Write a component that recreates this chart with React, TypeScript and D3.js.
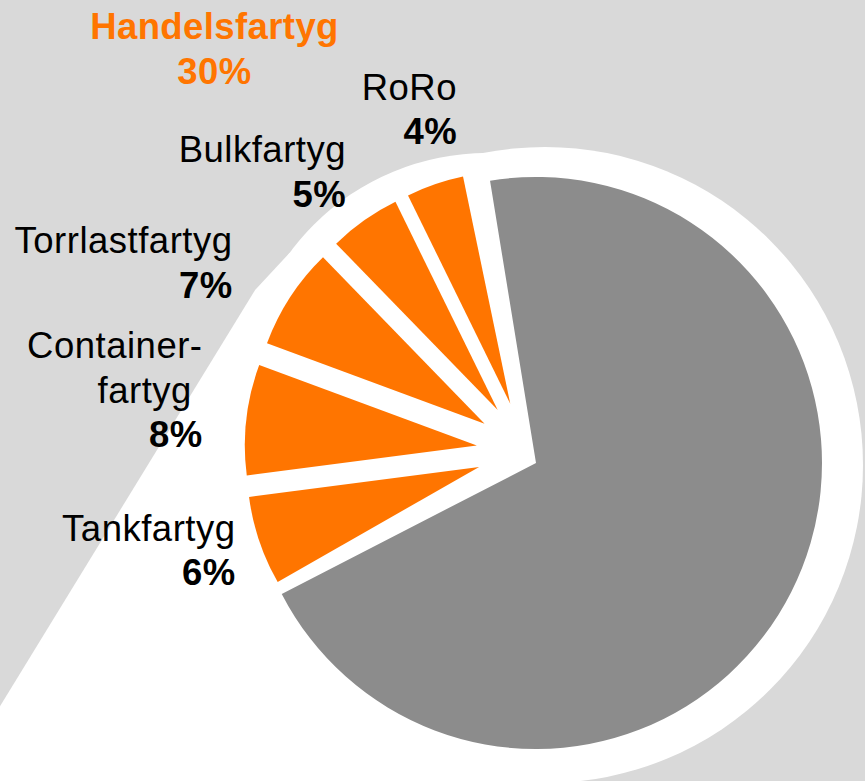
import React from 'react';
import * as d3 from 'd3';

// ---------- data ----------
const categories = ['Övriga fartyg', 'Tankfartyg', 'Containerfartyg', 'Torrlastfartyg', 'Bulkfartyg', 'RoRo'];
const shares = [70.0, 6.2, 7.7, 7.1, 5.0, 4.0];
const isMerchant = [false, true, true, true, true, true];
const labelLines = [[], ['Tankfartyg'], ['Container-', 'fartyg\u00A0'], ['Torrlastfartyg'], ['Bulkfartyg'], ['RoRo']];
const groupTitle = 'Handelsfartyg';

// ---------- layout ----------
const W = 865;
const H = 781;
const COLORS = { bg: '#d9d9d9', white: '#ffffff', grey: '#8c8c8c', orange: '#ff7500', text: '#000000' };
const DEG = Math.PI / 180;
const START = -9.25 * DEG;
const ORANGE_ROT = -2.5 * DEG;
const GREY_C: [number, number] = [536, 463];
const GREY_R = 286;
const OR_C: [number, number] = [526.5, 451];
const OR_R = 232;
const EXPLODE = 50;
const BIG_CIRCLE = { cx: 545, cy: 465, r: 318 };
const SMALL_CIRCLE = { cx: 487, cy: 398, r: 245 };
const TAIL_ANCHOR: [number, number] = [236.7, 320];
const TAIL_SLOPE = -0.613; // dx per dy
const labelPos = [null, { x: 235.5, y: 540.7 }, { x: 202.5, y: 358.3 }, { x: 232.5, y: 253.3 }, { x: 346, y: 162.3 }, { x: 457, y: 100 }];
const titlePos = { x: 214.5, y: 39.3 };
const LINE = 44.4;
const FONT = 36.5;
const FAMILY = '"Liberation Sans", Arial, Helvetica, sans-serif';

export default function App() {
  const pie = d3
    .pie<number>()
    .sort(null)
    .value((d) => d)
    .startAngle(START)
    .endAngle(START + 2 * Math.PI);
  const arcs = pie(shares);
  const arcGen = d3.arc<any>();

  const tailX = (y: number) => TAIL_ANCHOR[0] + TAIL_SLOPE * (y - TAIL_ANCHOR[1]);
  const joinY = 290;
  const smallJoinAngle = Math.atan2(253 - SMALL_CIRCLE.cy, 290 - SMALL_CIRCLE.cx);
  const sj: [number, number] = [
    SMALL_CIRCLE.cx + SMALL_CIRCLE.r * Math.cos(smallJoinAngle),
    SMALL_CIRCLE.cy + SMALL_CIRCLE.r * Math.sin(smallJoinAngle),
  ];
  const tail = d3.path();
  tail.moveTo(tailX(900), 900);
  tail.lineTo(tailX(joinY), joinY);
  tail.lineTo(sj[0], sj[1]);
  tail.lineTo(SMALL_CIRCLE.cx, SMALL_CIRCLE.cy);
  tail.lineTo(BIG_CIRCLE.cx, BIG_CIRCLE.cy);
  tail.lineTo(BIG_CIRCLE.cx + 15, 900);
  tail.closePath();

  const merchantTotal = d3.sum(shares.filter((_, i) => isMerchant[i]));

  return (
    <svg
      width={W}
      height={H}
      viewBox={`0 0 ${W} ${H}`}
      style={{ position: 'absolute', left: 0, top: 0, display: 'block' }}
      fontFamily={FAMILY}
    >
      <rect x={0} y={0} width={W} height={H} fill={COLORS.bg} />
      <circle cx={BIG_CIRCLE.cx} cy={BIG_CIRCLE.cy} r={BIG_CIRCLE.r} fill={COLORS.white} />
      <circle cx={SMALL_CIRCLE.cx} cy={SMALL_CIRCLE.cy} r={SMALL_CIRCLE.r} fill={COLORS.white} />
      <path d={tail.toString()} fill={COLORS.white} />

      {arcs.map((a, i) => {
        if (!isMerchant[i]) {
          const d = arcGen({ innerRadius: 0, outerRadius: GREY_R, startAngle: a.startAngle, endAngle: a.endAngle });
          return <path key={categories[i]} d={d || ''} fill={COLORS.grey} transform={`translate(${GREY_C[0]},${GREY_C[1]})`} />;
        }
        const a0 = a.startAngle + ORANGE_ROT;
        const a1 = a.endAngle + ORANGE_ROT;
        const mid = (a0 + a1) / 2;
        const ox = OR_C[0] + EXPLODE * Math.sin(mid);
        const oy = OR_C[1] - EXPLODE * Math.cos(mid);
        const d = arcGen({ innerRadius: 0, outerRadius: OR_R, startAngle: a0, endAngle: a1 });
        return <path key={categories[i]} d={d || ''} fill={COLORS.orange} transform={`translate(${ox},${oy})`} />;
      })}

      {arcs.map((a, i) => {
        const pos = labelPos[i];
        if (!isMerchant[i] || !pos) return null;
        const lines = labelLines[i];
        return (
          <text key={'lbl' + categories[i]} textAnchor="end" fontSize={FONT} fill={COLORS.text}>
            {lines.map((ln, j) => (
              <tspan key={j} x={pos.x} y={pos.y + j * LINE} letterSpacing={0.5} style={{ whiteSpace: 'pre' }}>
                {ln}
              </tspan>
            ))}
            <tspan x={pos.x} y={pos.y + lines.length * LINE} fontWeight="bold" letterSpacing={0.4}>
              {`${Math.round(shares[i])}%`}
            </tspan>
          </text>
        );
      })}

      <text textAnchor="middle" fontSize={FONT} fontWeight="bold" fill={COLORS.orange} letterSpacing={0.4}>
        <tspan x={titlePos.x} y={titlePos.y}>{groupTitle}</tspan>
        <tspan x={titlePos.x} y={titlePos.y + LINE}>{`${Math.round(merchantTotal)}%`}</tspan>
      </text>
    </svg>
  );
}
